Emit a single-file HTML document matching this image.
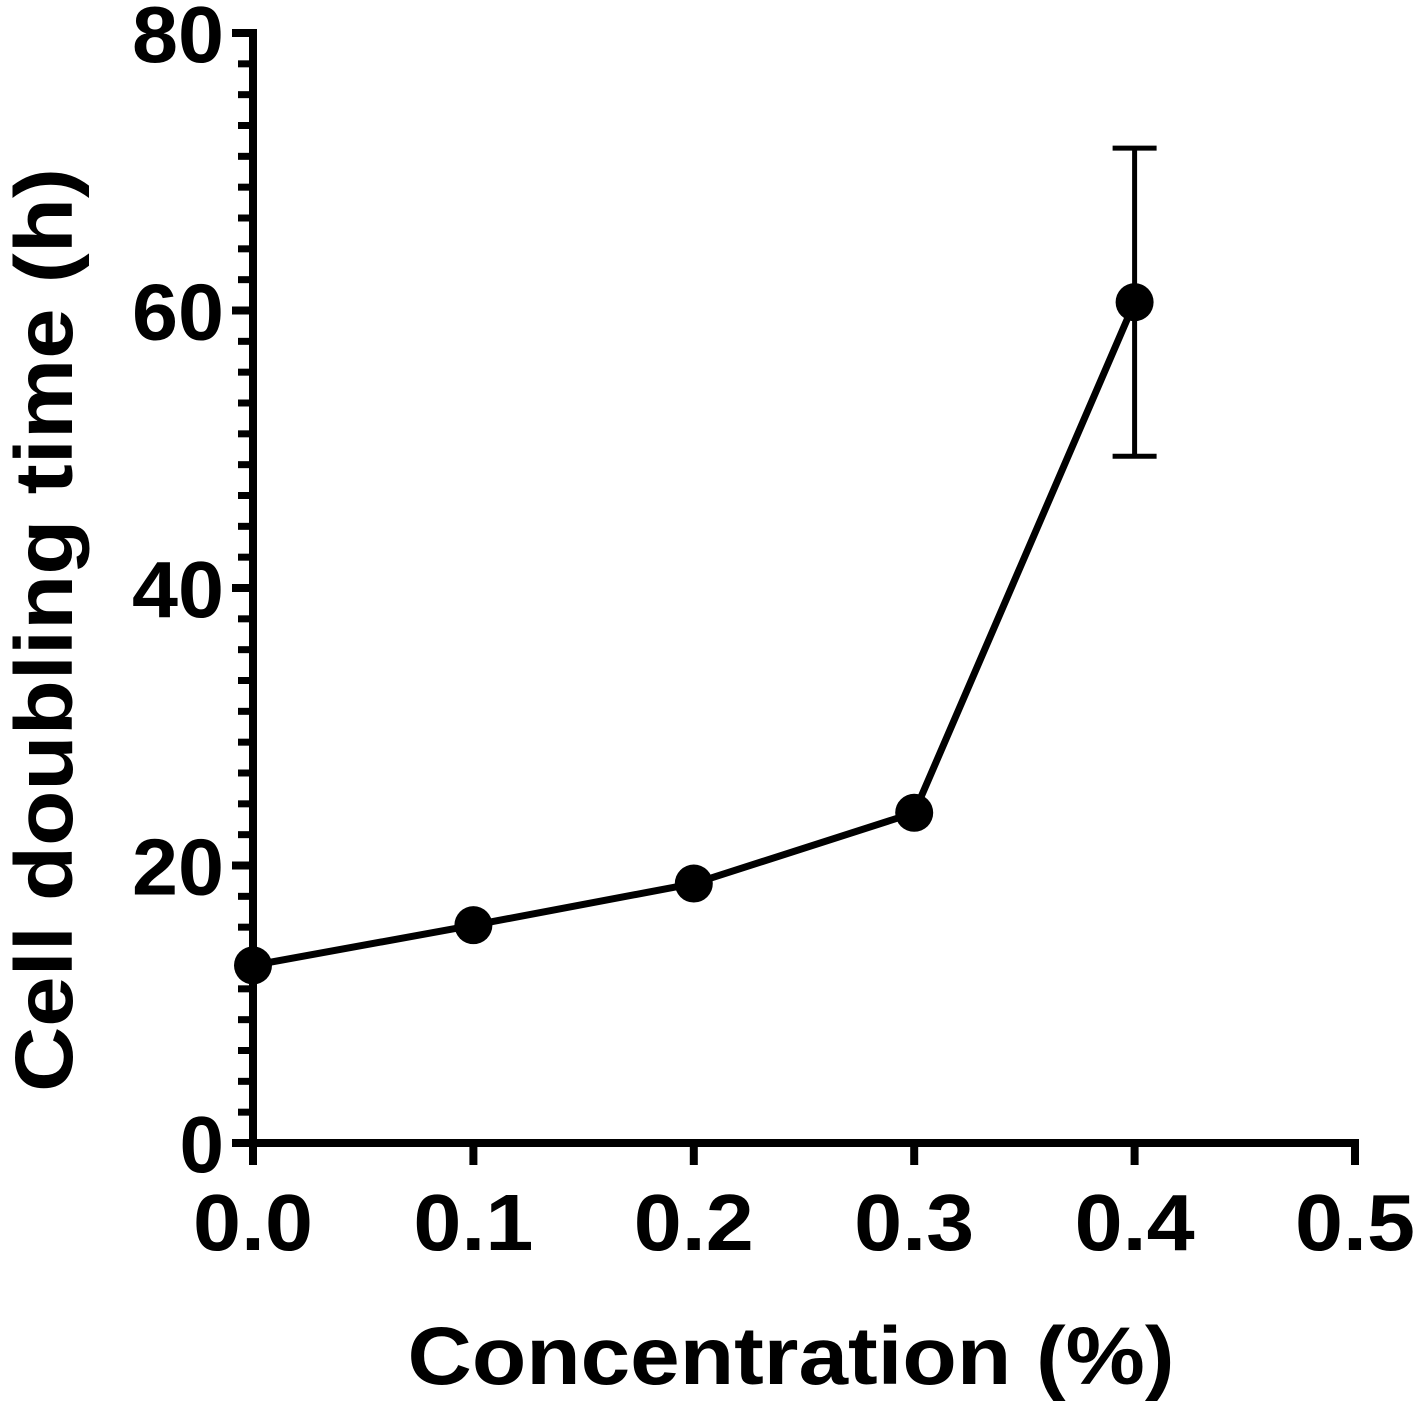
<!DOCTYPE html>
<html><head><meta charset="utf-8"><style>
html,body{margin:0;padding:0;background:#fff;}
svg{display:block;font-family:"Liberation Sans",Arial,sans-serif;font-weight:bold;}
</style></head><body>
<svg id="chart" width="1417" height="1404" viewBox="0 0 1417 1404" xmlns="http://www.w3.org/2000/svg"></svg>
<script>
const xValues = [0.0, 0.1, 0.2, 0.3, 0.4];
const yValues = [12.8, 15.7, 18.7, 23.8, 60.6];
const errUpper = [null, null, null, null, 71.7];
const errLower = [null, null, null, null, 49.5];
const yTicks = [0, 20, 40, 60, 80];
const xTicks = [0.0, 0.1, 0.2, 0.3, 0.4, 0.5];
const xTickLabels = ["0.0","0.1","0.2","0.3","0.4","0.5"];

const NS = "http://www.w3.org/2000/svg";
const svg = document.getElementById('chart');
const X0 = 253, X1 = 1355, Y0 = 1143, Y1 = 33;
function sx(v){ return X0 + (v - 0) / 0.5 * (X1 - X0); }
function sy(v){ return Y0 - v / 80 * (Y0 - Y1); }
function mk(tag, attrs){ const e = document.createElementNS(NS, tag); for (const k in attrs) e.setAttribute(k, attrs[k]); svg.appendChild(e); return e; }

let e = mk('line',{x1:X0,y1:Y1-4,x2:X0,y2:Y0+4,stroke:'#000','stroke-width':8});


e = mk('line',{x1:232,y1:Y0,x2:X1+4,y2:Y0,stroke:'#000','stroke-width':8});



for (let i = 0; i < yTicks.length; i++) {
  const t = yTicks[i];
  e = mk('line',{x1:232,y1:sy(t),x2:X0,y2:sy(t),stroke:'#000','stroke-width':8});
  
  
  e = mk('text',{x:224,y:sy(t)+29,'text-anchor':'end','font-size':80});
  e.textContent = String(t);
  if (String(t).length === 2) { e.setAttribute('textLength', 92); e.setAttribute('lengthAdjust','spacingAndGlyphs'); }
  
  
  if (i < yTicks.length - 1) {
    for (let j = 1; j < 9; j++) {
      const v = t + (yTicks[i+1] - t) * j / 9;
      e = mk('line',{x1:238,y1:sy(v),x2:X0,y2:sy(v),stroke:'#000','stroke-width':7});
      
      
    }
  }
}
for (let i = 0; i < xTicks.length; i++) {
  const x = sx(xTicks[i]);
  e = mk('line',{x1:x,y1:Y0,x2:x,y2:1165,stroke:'#000','stroke-width':8});
  
  
  e = mk('text',{x:x,y:1250,'text-anchor':'middle','font-size':80,textLength:120,lengthAdjust:'spacingAndGlyphs'});
  e.textContent = xTickLabels[i];
  
  
}
e = mk('text',{x:791,y:1384,'text-anchor':'middle','font-size':82,textLength:767,lengthAdjust:'spacingAndGlyphs'});
e.textContent = 'Concentration (%)';


e = mk('text',{x:0,y:0,'text-anchor':'middle','font-size':82,textLength:924,lengthAdjust:'spacingAndGlyphs',transform:'translate(72,630) rotate(-90)'});
e.textContent = 'Cell doubling time (h)';



for (let i = 0; i < xValues.length; i++) {
  if (errUpper[i] == null) continue;
  const x = sx(xValues[i]);
  e = mk('line',{x1:x,y1:sy(errUpper[i]),x2:x,y2:sy(errLower[i]),stroke:'#000','stroke-width':5});
  
  
  e = mk('line',{x1:x-22,y1:sy(errUpper[i]),x2:x+22,y2:sy(errUpper[i]),stroke:'#000','stroke-width':5});
  
  
  e = mk('line',{x1:x-22,y1:sy(errLower[i]),x2:x+22,y2:sy(errLower[i]),stroke:'#000','stroke-width':5});
  
  
}
const pts = xValues.map((v,i)=>sx(v)+','+sy(yValues[i])).join(' ');
e = mk('polyline',{points:pts,fill:'none',stroke:'#000','stroke-width':7,'stroke-linejoin':'round'});


for (let i = 0; i < xValues.length; i++) {
  e = mk('circle',{cx:sx(xValues[i]),cy:sy(yValues[i]),r:19,fill:'#000'});
  
  
}
</script>
</body></html>
